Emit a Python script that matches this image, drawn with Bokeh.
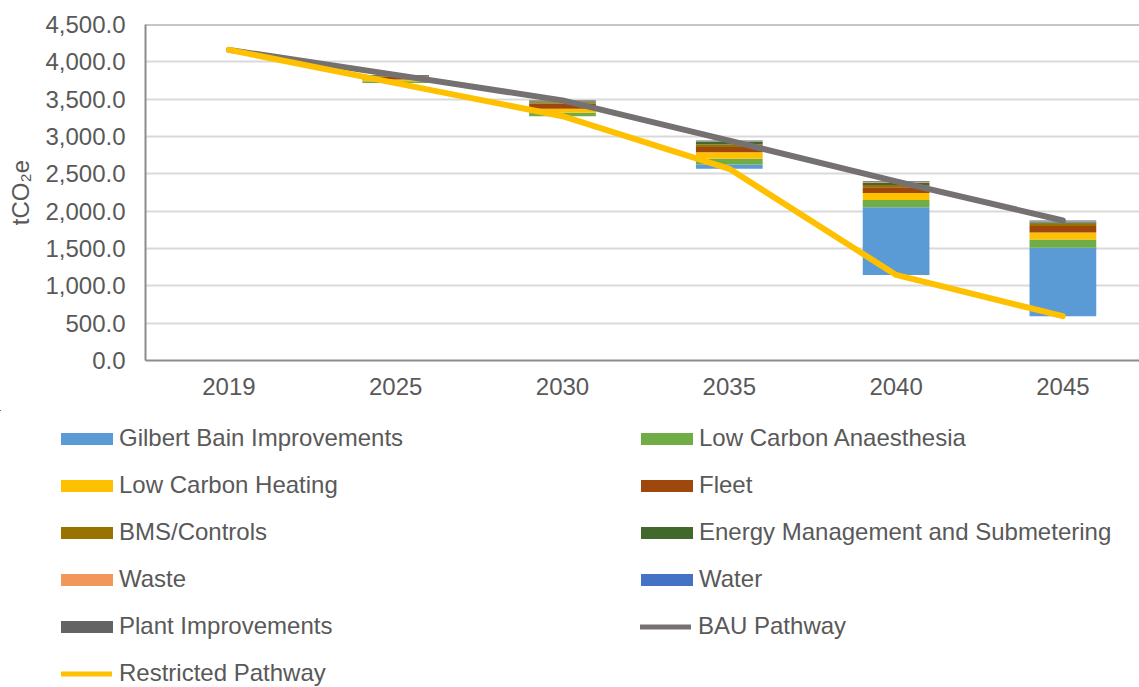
from bokeh.plotting import figure
from bokeh.models import (ColumnDataSource, FixedTicker, NumeralTickFormatter,
                          Range1d, Span, Legend, LegendItem)
from bokeh.layouts import column
from bokeh.embed import file_html
from bokeh.resources import INLINE

# ---------------- data ----------------
years = ["2019", "2025", "2030", "2035", "2040", "2045"]
bau_pathway = [4160, 3825, 3484, 2945, 2400, 1875]
restricted_pathway = [4160, 3715, 3272, 2567, 1146, 594]

gilbert_bain = [0, 0, 0, 58, 906, 915]
low_carbon_anaesthesia = [0, 25, 45, 76, 98, 112]
low_carbon_heating = [0, 25, 55, 89, 94, 94]
fleet = [0, 35, 65, 70, 76, 85]
bms_controls = [0, 10, 18, 33, 31, 31]
energy_management = [0, 10, 18, 36, 27, 22]
waste = [0, 0, 3, 4, 8, 8]
water = [0, 0, 3, 4, 6, 6]
plant_improvements = [0, 5, 5, 8, 8, 8]

series_names = ["Gilbert Bain Improvements", "Low Carbon Anaesthesia",
                "Low Carbon Heating", "Fleet", "BMS/Controls",
                "Energy Management and Submetering", "Waste", "Water",
                "Plant Improvements"]
series_values = [gilbert_bain, low_carbon_anaesthesia, low_carbon_heating,
                 fleet, bms_controls, energy_management, waste, water,
                 plant_improvements]
series_colors = ["#5B9BD5", "#70AD47", "#FFC000", "#9E480E", "#997300",
                 "#43682B", "#F1975A", "#4472C4", "#636363"]
bau_color = "#767171"
restricted_color = "#FFC000"
y_ticks = [0, 500, 1000, 1500, 2000, 2500, 3000, 3500, 4000, 4500]

FONT = "Liberation Sans"
TXT = "#595959"
LINE_W = 6

xs = list(range(len(years)))
cat_w = 166.8
frame_w = 1139 - 145

# ---------------- chart ----------------
p = figure(width=1139, height=410, output_backend="svg", toolbar_location=None,
           x_range=Range1d(-0.5, -0.5 + frame_w / cat_w),
           y_range=Range1d(0, 4500),
           min_border_left=145, min_border_right=0, min_border_top=24,
           min_border_bottom=50)
p.frame_align = False
p.outline_line_color = None
p.background_fill_color = "white"
p.border_fill_color = "white"

bar_sources = []
bottom = list(restricted_pathway)
for name, vals, col in zip(series_names, series_values, series_colors):
    top = [b + v for b, v in zip(bottom, vals)]
    src = ColumnDataSource(dict(x=xs, bottom=bottom, top=top))
    bar_sources.append(src)
    p.vbar(x="x", bottom="bottom", top="top", width=0.4, source=src,
           fill_color=col, line_color=None)
    bottom = top

line_src = ColumnDataSource(dict(x=xs, bau=bau_pathway, restricted=restricted_pathway))
p.line(x="x", y="bau", source=line_src, line_color=bau_color, line_width=LINE_W,
       line_cap="round", line_join="round")
p.line(x="x", y="restricted", source=line_src, line_color=restricted_color,
       line_width=LINE_W, line_cap="round", line_join="round")

p.xaxis.ticker = FixedTicker(ticks=xs)
p.xaxis.major_label_overrides = {i: y for i, y in enumerate(years)}
p.yaxis.ticker = FixedTicker(ticks=y_ticks)
p.yaxis.formatter = NumeralTickFormatter(format="0,0.0")
for ax in (p.xaxis, p.yaxis):
    ax.axis_line_color = "#8C8C8C"
    ax.axis_line_width = 2
    ax.major_tick_line_color = None
    ax.minor_tick_line_color = None
    ax.major_tick_out = 0
    ax.major_tick_in = 0
    ax.major_label_text_font = FONT
    ax.major_label_text_font_size = "24px"
    ax.major_label_text_color = TXT
p.xaxis.major_label_standoff = 17
p.yaxis.major_label_standoff = 20
p.yaxis.axis_label = "tCO\u2082e"
p.yaxis.axis_label_text_font = FONT
p.yaxis.axis_label_text_font_size = "24px"
p.yaxis.axis_label_text_font_style = "normal"
p.yaxis.axis_label_text_color = TXT
p.yaxis.axis_label_standoff = 8

p.xgrid.grid_line_color = None
p.ygrid.grid_line_color = "#D9D9D9"
p.ygrid.grid_line_width = 2
p.add_layout(Span(location=4500, dimension="width", line_color="#8C8C8C",
                  line_width=2))

# ---------------- legend (same series, drawn off-view) ----------------
lg = figure(width=1139, height=290, output_backend="svg", toolbar_location=None,
            x_range=Range1d(100, 101), y_range=Range1d(-2, -1),
            min_border=0, x_axis_location=None, y_axis_location=None)
lg.frame_align = False
lg.outline_line_color = None
lg.xgrid.grid_line_color = None
lg.ygrid.grid_line_color = None

common = dict(padding=0, margin=0, border_line_color=None,
              background_fill_alpha=0, label_text_font=FONT,
              label_text_font_size="24px", label_text_color=TXT,
              label_height=30, spacing=17)

bar_items = []
for name, col, src in zip(series_names, series_colors, bar_sources):
    r = lg.vbar(x="x", bottom="bottom", top="top", width=0.4, source=src,
                fill_color=col, line_color=None)
    bar_items.append(LegendItem(label=name, renderers=[r]))
r_bau = lg.line(x="x", y="bau", source=line_src, line_color=bau_color,
                line_width=5, line_cap="round")
r_res = lg.line(x="x", y="restricted", source=line_src, line_color=restricted_color,
                line_width=5, line_cap="round")

bar_legend = Legend(items=bar_items, orientation="horizontal", ncols=2,
                    location=(54, 59), glyph_width=65, glyph_height=15,
                    label_standoff=0, label_width=498, **common)
bau_legend = Legend(items=[LegendItem(label="BAU Pathway", renderers=[r_bau])],
                    location=(640, 59), glyph_width=51, glyph_height=15,
                    label_standoff=7, **common)
res_legend = Legend(items=[LegendItem(label="Restricted Pathway", renderers=[r_res])],
                    location=(61, 12), glyph_width=51, glyph_height=15,
                    label_standoff=7, **common)
for lgd in (bar_legend, bau_legend, res_legend):
    lg.add_layout(lgd, "center")

open("out.html", "w").write(file_html(column(p, lg, spacing=0), INLINE))
